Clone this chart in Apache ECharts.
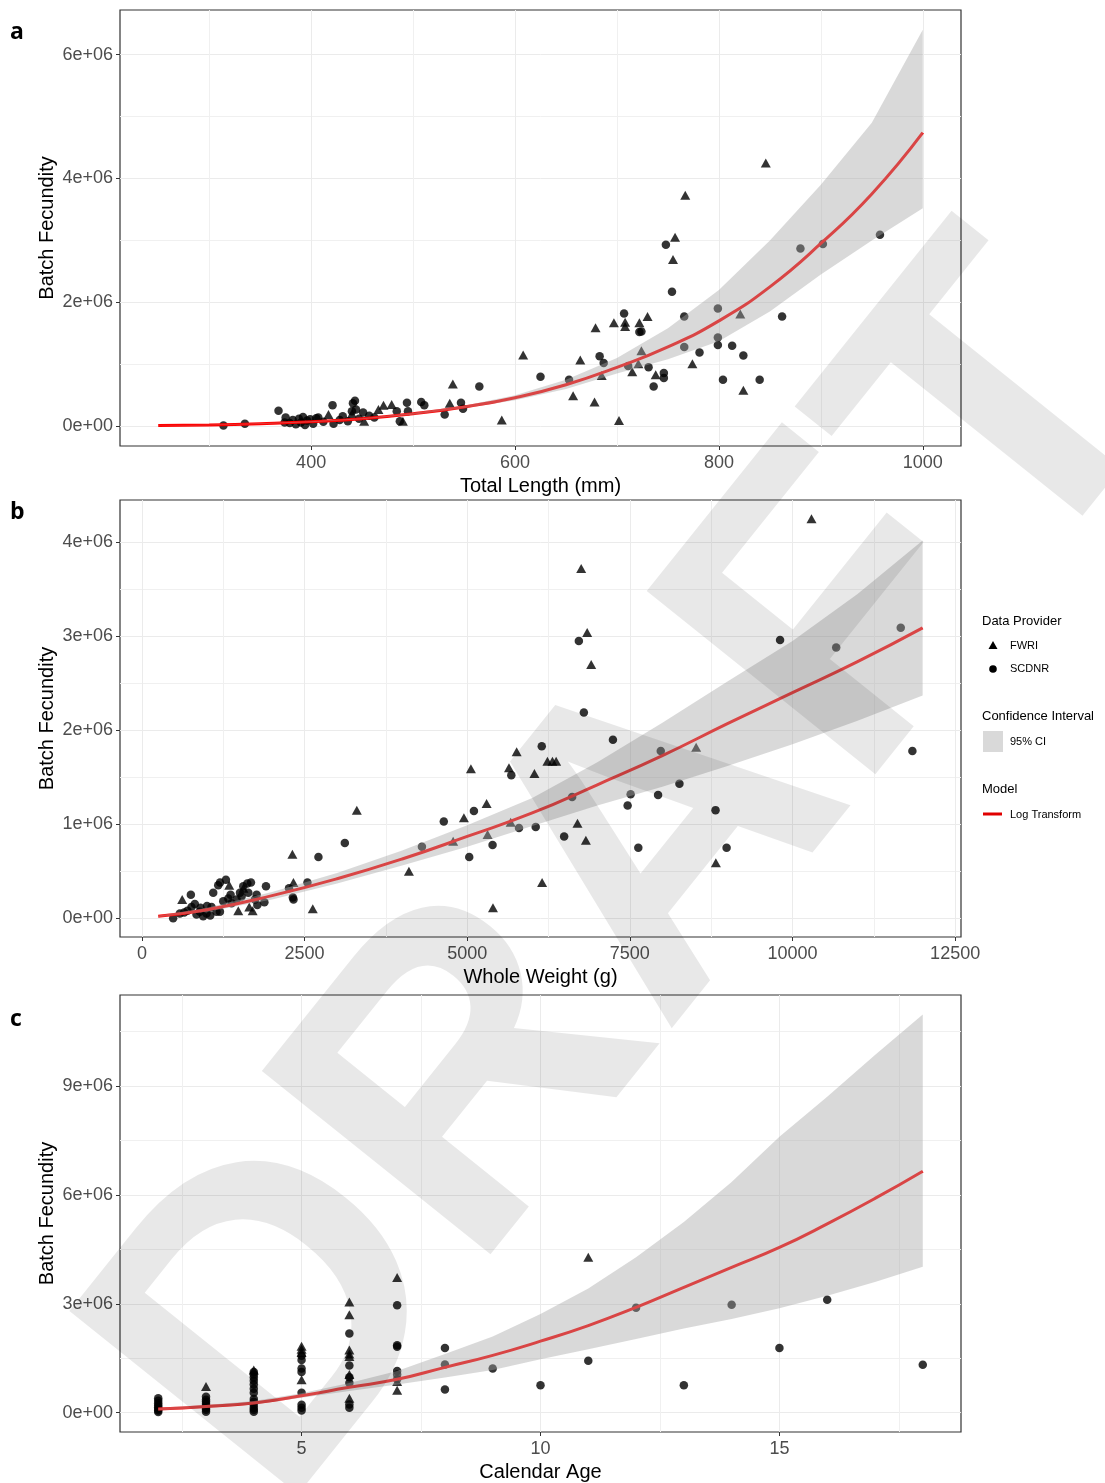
<!DOCTYPE html>
<html>
<head>
<meta charset="utf-8">
<script src="https://cdn.jsdelivr.net/npm/echarts@6/dist/echarts.min.js"></script>
<style>
  html, body { margin: 0; padding: 0; background: #fff; }
  #chart { width: 1105px; height: 1483px; }
</style>
</head>
<body>
<div id="chart"></div>
<script>
// batch fecundity values are in millions of eggs

// panel a - total length (mm)
var aFwri = [[417,0.19],[440,0.20],[452,0.08],[466,0.27],[471,0.34],[479,0.35],[490,0.08],[536,0.37],[539,0.68],[587,0.10],
  [608,1.15],[657,0.49],[664,1.07],[678,0.39],[679,1.59],[685,0.82],[697,1.67],[702,0.09],[708,1.61],[708,1.68],[715,0.88],
  [721,1.01],[722,1.67],[724,1.22],[730,1.77],[738,0.83],[755,2.69],[757,3.05],[767,3.73],[774,1.01],[821,1.81],[824,0.58],[846,4.25]];
var aScdnr = [[314,0.01],[335,0.04],[368,0.25],[374,0.06],[375,0.14],[379,0.05],[382,0.10],[385,0.03],[388,0.12],[390,0.06],
  [392,0.15],[394,0.02],[396,0.09],[399,0.11],[402,0.04],[405,0.13],[407,0.14],[412,0.07],[421,0.34],[422,0.04],[428,0.10],
  [431,0.16],[436,0.08],[440,0.24],[441,0.37],[443,0.41],[444,0.27],[447,0.12],[451,0.22],[457,0.17],[462,0.14],[484,0.24],
  [487,0.08],[494,0.38],[495,0.24],[508,0.39],[511,0.34],[531,0.19],[547,0.38],[549,0.28],[565,0.64],[625,0.80],[653,0.75],
  [683,1.13],[687,1.02],[707,1.82],[711,0.97],[722,1.52],[724,1.53],[731,0.95],[736,0.64],[746,0.86],[746,0.78],[748,2.93],
  [754,2.17],[766,1.77],[766,1.28],[781,1.19],[799,1.90],[799,1.43],[799,1.31],[804,0.75],[813,1.30],[824,1.14],[840,0.75],
  [862,1.77],[880,2.87],[902,2.94],[958,3.09]];
var aFitX = [250,300,350,400,450,500,550,600,650,700,750,800,850,900,950,1000];
var aFit  = [0.01,0.02,0.04,0.07,0.12,0.20,0.31,0.46,0.67,0.95,1.28,1.70,2.25,2.95,3.75,4.74];
var aLo   = [0.007,0.016,0.034,0.065,0.112,0.185,0.29,0.42,0.60,0.85,1.08,1.37,1.85,2.45,3.00,3.52];
var aHi   = [0.013,0.025,0.047,0.078,0.13,0.215,0.33,0.50,0.75,1.10,1.58,2.20,3.00,3.90,4.90,6.40];

// panel b - whole weight (g)
var bFwri = [[619,0.20],[1342,0.35],[1481,0.08],[1560,0.32],[1650,0.12],[1702,0.08],[2313,0.68],[2329,0.38],[2626,0.10],
  [3303,1.15],[4104,0.50],[4784,0.82],[4949,1.07],[5057,1.59],[5298,1.22],[5313,0.89],[5396,0.11],[5642,1.60],[5668,1.02],
  [5760,1.77],[6033,1.54],[6151,0.38],[6233,1.67],[6310,1.67],[6367,1.67],[6695,1.01],[6752,3.72],[6824,0.83],[6844,3.04],
  [6906,2.70],[8519,1.82],[8822,0.59],[10292,4.25]];
var bScdnr = [[480,0.00],[583,0.05],[650,0.06],[700,0.08],[752,0.25],[762,0.12],[813,0.15],[839,0.04],[891,0.07],[900,0.11],
  [942,0.02],[993,0.05],[1000,0.13],[1050,0.03],[1070,0.12],[1096,0.27],[1147,0.07],[1173,0.35],[1199,0.07],[1200,0.38],
  [1250,0.18],[1291,0.41],[1327,0.21],[1363,0.25],[1378,0.16],[1455,0.20],[1507,0.27],[1532,0.23],[1558,0.34],[1620,0.37],
  [1635,0.27],[1676,0.38],[1737,0.20],[1763,0.25],[1774,0.14],[1882,0.17],[1907,0.34],[2261,0.32],[2320,0.22],[2330,0.20],
  [2544,0.38],[2713,0.65],[3119,0.80],[4304,0.76],[4640,1.03],[5031,0.65],[5103,1.14],[5390,0.78],[5678,1.52],[5796,0.96],
  [6053,0.97],[6146,1.83],[6490,0.87],[6613,1.29],[6716,2.95],[6793,2.19],[7240,1.90],[7466,1.20],[7512,1.32],[7630,0.75],
  [7934,1.31],[7975,1.78],[8262,1.43],[8817,1.15],[8987,0.75],[9809,2.96],[10672,2.88],[11664,3.09],[11843,1.78]];
var bFitX = [250,1000,2000,3000,4000,5000,6000,7000,8000,9000,10000,11000,12000];
var bFit  = [0.02,0.09,0.24,0.42,0.63,0.87,1.12,1.42,1.73,2.07,2.40,2.73,3.09];
var bLo   = [0.01,0.07,0.20,0.37,0.56,0.76,0.98,1.20,1.40,1.62,1.85,2.10,2.37];
var bHi   = [0.03,0.11,0.28,0.48,0.72,0.99,1.28,1.66,2.08,2.52,2.95,3.45,4.02];

// panel c - calendar age
var cFwri = [[3,0.72],[4,1.18],[5,1.83],[5,1.75],[5,1.66],[5,0.91],[6,3.05],[6,2.70],[6,1.73],[6,1.62],[6,1.55],[6,1.05],
  [6,0.40],[7,3.72],[7,0.86],[7,0.62],[11,4.28]];
var cScdnr = [[2,0.02],[2,0.06],[2,0.10],[2,0.15],[2,0.20],[2,0.26],[2,0.33],[2,0.40],
  [3,0.03],[3,0.08],[3,0.13],[3,0.18],[3,0.24],[3,0.30],[3,0.36],[3,0.44],
  [4,0.03],[4,0.08],[4,0.14],[4,0.22],[4,0.30],[4,0.38],[4,0.55],[4,0.66],[4,0.78],[4,0.88],[4,0.97],[4,1.05],[4,1.12],
  [5,1.57],[5,1.45],[5,1.22],[5,1.12],[5,0.55],[5,0.22],[5,0.14],[5,0.06],
  [6,2.18],[6,1.30],[6,0.98],[6,0.82],[6,0.23],[6,0.14],
  [7,2.96],[7,1.86],[7,1.82],[7,1.15],[7,1.05],[7,0.92],
  [8,1.78],[8,1.33],[8,0.64],[9,1.22],[10,0.76],[11,1.43],[12,2.89],[13,0.76],[14,2.97],[15,1.78],[16,3.11],[18,1.32]];
var cFitX = [2,3,4,5,6,7,8,9,10,11,12,13,14,15,16,17,18];
var cFit  = [0.10,0.17,0.27,0.47,0.70,0.92,1.25,1.58,1.97,2.40,2.90,3.45,4.00,4.55,5.20,5.90,6.65];
var cLo   = [0.06,0.13,0.23,0.41,0.60,0.78,0.97,1.18,1.47,1.75,2.03,2.32,2.58,2.88,3.22,3.60,4.02];
var cHi   = [0.14,0.21,0.32,0.54,0.82,1.15,1.62,2.10,2.72,3.42,4.28,5.25,6.35,7.60,8.70,9.85,10.96];

// axis breaks (major labelled, minor only gridlines)
var aXMajor = [400,600,800,1000], aXMinor = [300,500,700,900];
var aYMajor = [0,2e6,4e6,6e6], aYMinor = [1e6,3e6,5e6];
var bXMajor = [0,2500,5000,7500,10000,12500], bXMinor = [1250,3750,6250,8750,11250];
var bYMajor = [0,1e6,2e6,3e6,4e6], bYMinor = [0.5e6,1.5e6,2.5e6,3.5e6];
var cXMajor = [5,10,15], cXMinor = [2.5,7.5,12.5,17.5];
var cYMajor = [0,3e6,6e6,9e6], cYMinor = [1.5e6,4.5e6,7.5e6,10.5e6];

var FONT = 'Liberation Sans, Arial, sans-serif';
var chart = echarts.init(document.getElementById('chart'));

function toRaw(pairs) {
  return pairs.map(function (p) { return [p[0], p[1] * 1e6]; });
}
function zipRaw(xs, ys) {
  return xs.map(function (x, i) { return [x, ys[i] * 1e6]; });
}
function sciLabel(v) {
  if (v === 0) return '0e+00';
  return (v / 1e6) + 'e+06';
}

function xAxes(grid, min, max, major, minor, name) {
  return [{
    type: 'value', gridIndex: grid, min: min, max: max, position: 'bottom',
    name: name, nameLocation: 'middle', nameGap: 30, nameMoveOverlap: false,
    nameTextStyle: { fontSize: 20, color: '#000', fontFamily: FONT },
    axisLine: { show: false, onZero: false },
    axisTick: { show: true, length: 4, customValues: major, lineStyle: { color: '#333', width: 1 } },
    axisLabel: { customValues: major, fontSize: 18, color: '#4d4d4d', margin: 8, fontFamily: FONT,
      formatter: function (v) { return String(v); } },
    splitLine: { show: true, lineStyle: { color: '#ebebeb', width: 1 } }
  }, {
    type: 'value', gridIndex: grid, min: min, max: max, position: 'top',
    axisLine: { show: false, onZero: false }, axisLabel: { show: false },
    axisTick: { show: false, customValues: minor },
    splitLine: { show: true, lineStyle: { color: '#f0f0f0', width: 1 } }
  }];
}
function yAxes(grid, min, max, major, minor) {
  return [{
    type: 'value', gridIndex: grid, min: min, max: max, position: 'left',
    name: 'Batch Fecundity', nameLocation: 'middle', nameGap: 63, nameRotate: 90, nameMoveOverlap: false,
    nameTextStyle: { fontSize: 20, color: '#000', fontFamily: FONT },
    axisLine: { show: false, onZero: false },
    axisTick: { show: true, length: 4, customValues: major, lineStyle: { color: '#333', width: 1 } },
    axisLabel: { customValues: major, fontSize: 18, color: '#4d4d4d', margin: 7, fontFamily: FONT, formatter: sciLabel },
    splitLine: { show: true, lineStyle: { color: '#ebebeb', width: 1 } }
  }, {
    type: 'value', gridIndex: grid, min: min, max: max, position: 'right',
    axisLine: { show: false, onZero: false }, axisLabel: { show: false },
    axisTick: { show: false, customValues: minor },
    splitLine: { show: true, lineStyle: { color: '#f0f0f0', width: 1 } }
  }];
}

function panelSeries(k, fwri, scdnr, fitX, fit, lo, hi) {
  var ax = k * 2;
  return [{
    type: 'scatter', xAxisIndex: ax, yAxisIndex: ax, symbol: 'triangle', symbolSize: [10, 9],
    itemStyle: { color: '#000' }, data: toRaw(fwri), z: 2
  }, {
    type: 'scatter', xAxisIndex: ax, yAxisIndex: ax, symbol: 'circle', symbolSize: 8.5,
    itemStyle: { color: '#000' }, data: toRaw(scdnr), z: 2
  }, {
    type: 'line', xAxisIndex: ax, yAxisIndex: ax, data: zipRaw(fitX, fit), smooth: true,
    showSymbol: false, lineStyle: { color: '#ff0000', width: 3 }, z: 3
  }, {
    // 95% confidence ribbon, drawn over the points and the fit
    type: 'custom', xAxisIndex: ax, yAxisIndex: ax, z: 4, silent: true,
    data: [[fitX[0], 0]],
    renderItem: function (params, api) {
      var pts = [];
      for (var i = 0; i < fitX.length; i++) pts.push(api.coord([fitX[i], hi[i] * 1e6]));
      for (var j = fitX.length - 1; j >= 0; j--) pts.push(api.coord([fitX[j], lo[j] * 1e6]));
      return { type: 'polygon', shape: { points: pts }, style: { fill: 'rgba(165,165,165,0.42)' } };
    }
  }];
}

var gridBase = { show: true, left: 120, width: 841, borderColor: '#333', borderWidth: 1.2,
  backgroundColor: 'transparent', containLabel: false, outerBoundsMode: 'none' };

function txt(x, y, s, size, weight) {
  return { type: 'text', x: x, y: y, silent: true, z: 50,
    style: { text: s, fontSize: size, fontWeight: weight || 'normal', fontFamily: FONT, fill: '#000',
      align: 'left', verticalAlign: 'middle' } };
}
function letter(y, s) {
  return { type: 'text', x: 10, y: y, silent: true,
    style: { text: s, fontSize: 23, fontWeight: 'bold', fontFamily: 'Open Sans, sans-serif', fill: '#000', verticalAlign: 'middle' } };
}

chart.setOption({
  animation: false,
  backgroundColor: '#fff',
  grid: [
    Object.assign({}, gridBase, { top: 10, height: 436 }),
    Object.assign({}, gridBase, { top: 500, height: 437 }),
    Object.assign({}, gridBase, { top: 995, height: 437 })
  ],
  xAxis: [].concat(
    xAxes(0, 212.5, 1037.5, aXMajor, aXMinor, 'Total Length (mm)'),
    xAxes(1, -337, 12590, bXMajor, bXMinor, 'Whole Weight (g)'),
    xAxes(2, 1.2, 18.8, cXMajor, cXMinor, 'Calendar Age')
  ),
  yAxis: [].concat(
    yAxes(0, -0.32e6, 6.72e6, aYMajor, aYMinor),
    yAxes(1, -0.2e6, 4.45e6, bYMajor, bYMinor),
    yAxes(2, -0.53e6, 11.5e6, cYMajor, cYMinor)
  ),
  series: [].concat(
    panelSeries(0, aFwri, aScdnr, aFitX, aFit, aLo, aHi),
    panelSeries(1, bFwri, bScdnr, bFitX, bFit, bLo, bHi),
    panelSeries(2, cFwri, cScdnr, cFitX, cFit, cLo, cHi)
  ),
  graphic: [
    letter(32, 'a'), letter(512, 'b'), letter(1019, 'c'),
    // legend next to panel b
    txt(982, 621, 'Data Provider', 13),
    { type: 'polygon', silent: true, shape: { points: [[993, 641], [997.5, 649], [988.5, 649]] }, style: { fill: '#000' } },
    txt(1010, 646, 'FWRI', 11),
    { type: 'circle', silent: true, shape: { cx: 993, cy: 669, r: 3.8 }, style: { fill: '#000' } },
    txt(1010, 669, 'SCDNR', 11),
    txt(982, 716, 'Confidence Interval', 13),
    { type: 'rect', silent: true, shape: { x: 983, y: 731, width: 20, height: 21 }, style: { fill: '#d9d9d9' } },
    txt(1010, 742, '95% CI', 11),
    txt(982, 789, 'Model', 13),
    { type: 'line', silent: true, shape: { x1: 983, y1: 814, x2: 1002, y2: 814 }, style: { stroke: '#e00000', lineWidth: 3 } },
    txt(1010, 815, 'Log Transform', 11),
    // DRAFT watermark over everything
    { type: 'text', x: 640, y: 880, rotation: 0.895, silent: true, z: 100,
      style: { text: 'DRAFT', fontSize: 426, fontWeight: 'bold', fontFamily: FONT,
        fill: 'rgba(0,0,0,0.09)', align: 'center', verticalAlign: 'middle' } }
  ]
});

window.addEventListener('resize', function () { chart.resize(); });
</script>
</body>
</html>
